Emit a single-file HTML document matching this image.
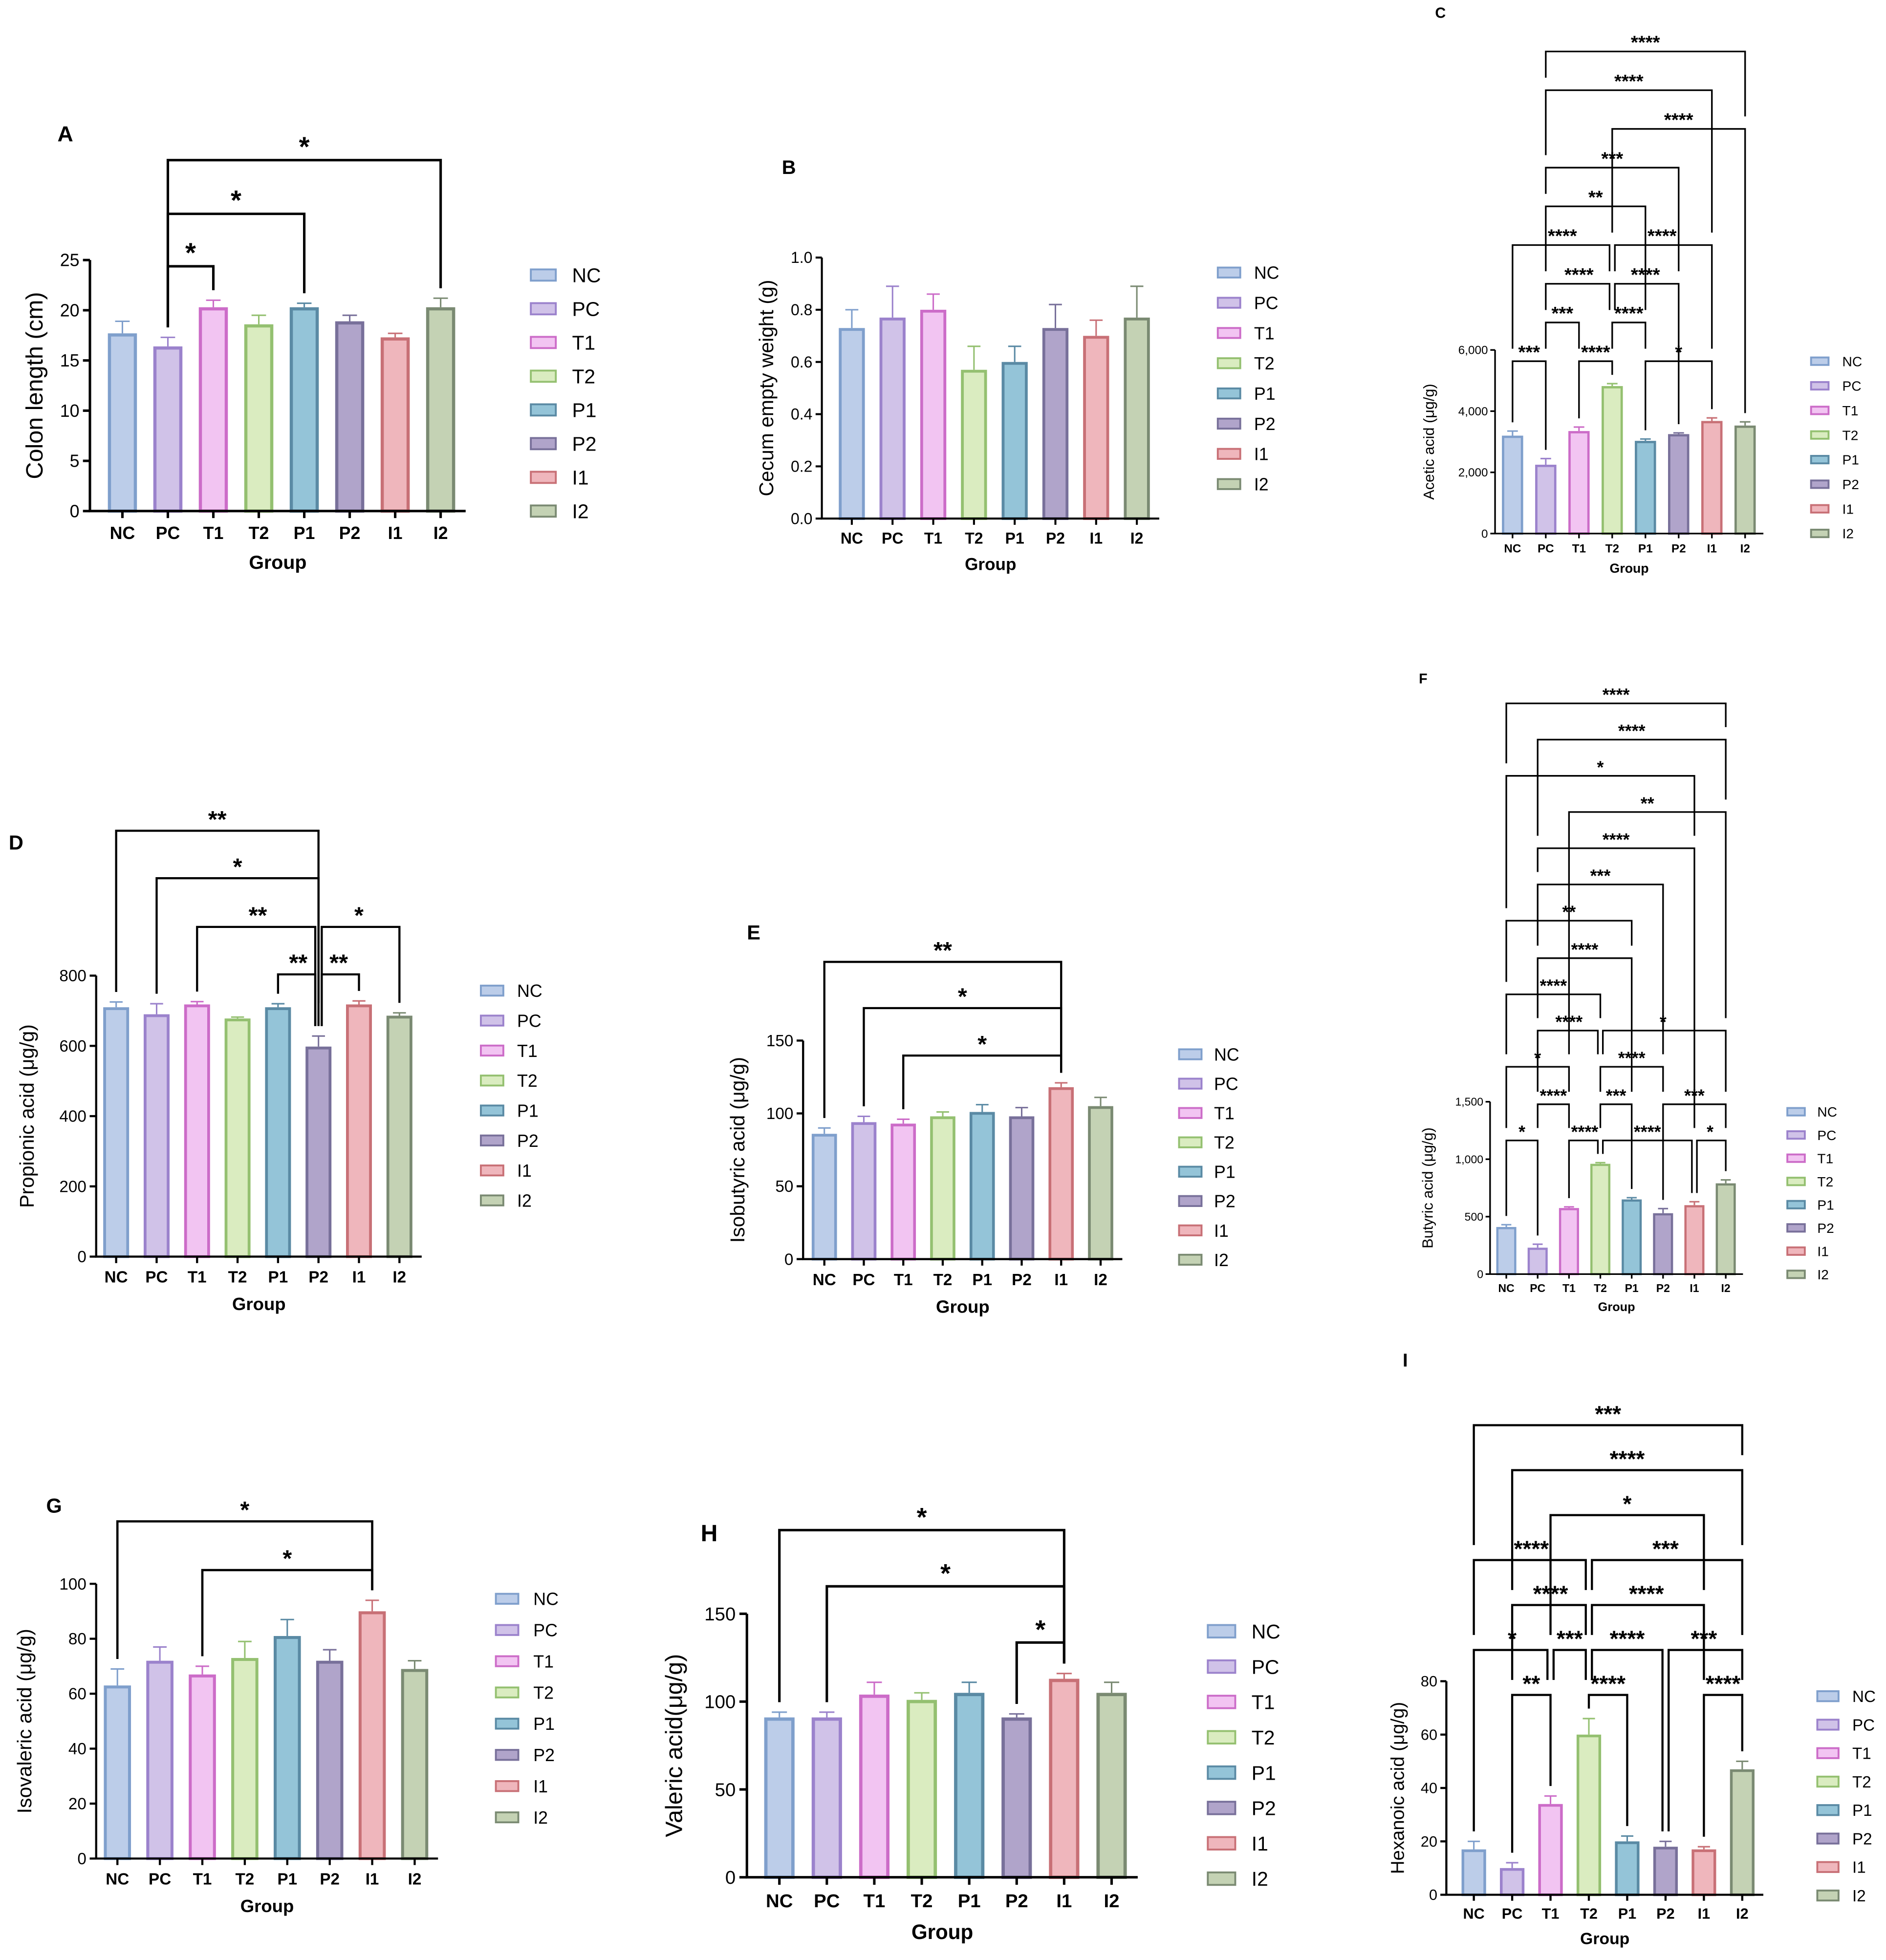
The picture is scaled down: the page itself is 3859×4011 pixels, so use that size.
<!DOCTYPE html>
<html><head><meta charset="utf-8">
<style>html,body{margin:0;padding:0;background:#fff}svg{display:block}text{font-family:"Liberation Sans",sans-serif}</style>
</head><body>
<svg id="fig" xmlns="http://www.w3.org/2000/svg" width="3859" height="4011" viewBox="0 0 1510 1569"></svg>
<script>
const groups=['NC','PC','T1','T2','P1','P2','I1','I2'];
const fills=['#bccde9','#d0c2e8','#f2c4f2','#daecc0','#94c4d8','#b0a4ca','#efb6bc','#c4d2b4'];
const strokes=['#7f9fcc','#9b82cc','#cc6cc8','#94c070','#5a8aa4','#78709a','#c87076','#7a8a72'];

const aValues=[17.7,16.4,20.3,18.6,20.3,18.9,17.3,20.3];
const aErrors=[1.2,0.9,0.7,0.9,0.4,0.6,0.4,0.9];
const aTicks=[0,5,10,15,20,25];
const aPairs=[[1,2,'*'],[1,4,'*'],[1,7,'*']];

const bValues=[0.73,0.77,0.80,0.57,0.60,0.73,0.70,0.77];
const bErrors=[0.07,0.12,0.06,0.09,0.06,0.09,0.06,0.12];
const bTicks=[0,0.2,0.4,0.6,0.8,1.0];
const bTickLabels=['0.0','0.2','0.4','0.6','0.8','1.0'];

const cValues=[3200,2250,3350,4820,3030,3250,3680,3530];
const cErrors=[150,200,130,80,60,40,100,120];
const cTicks=[0,2000,4000,6000];
const cTickLabels=['0','2,000','4,000','6,000'];
const cPairs=[[1,7,'****'],[1,6,'****'],[3,7,'****'],[1,5,'***'],[1,4,'**'],[0,3,'****'],[3,6,'****'],[1,3,'****'],[3,5,'****'],[1,2,'***'],[3,4,'****'],[0,1,'***'],[2,3,'****'],[4,6,'*']];

const dValues=[710,690,718,678,710,598,718,686];
const dErrors=[15,30,8,4,10,30,10,8];
const dTicks=[0,200,400,600,800];
const dPairs=[[0,5,'**'],[1,5,'*'],[2,5,'**'],[5,7,'*'],[4,5,'**'],[5,6,'**']];

const eValues=[86,94,93,98,101,98,118,105];
const eErrors=[4,4,3,3,5,6,3,6];
const eTicks=[0,50,100,150];
const ePairs=[[0,6,'**'],[1,6,'*'],[2,6,'*']];

const fValues=[410,230,575,960,650,530,600,790];
const fErrors=[20,30,10,10,15,40,30,30];
const fTicks=[0,500,1000,1500];
const fTickLabels=['0','500','1,000','1,500'];
const fPairs=[[0,7,'****'],[1,7,'****'],[0,6,'*'],[2,7,'**'],[1,6,'****'],[1,5,'***'],[0,4,'**'],[1,4,'****'],[0,3,'****'],[1,3,'****'],[3,7,'*'],[0,2,'*'],[3,5,'****'],[1,2,'****'],[3,4,'***'],[5,7,'***'],[0,1,'*'],[2,3,'****'],[3,6,'****'],[6,7,'*']];

const gValues=[63,72,67,73,81,72,90,69];
const gErrors=[6,5,3,6,6,4,4,3];
const gTicks=[0,20,40,60,80,100];
const gPairs=[[0,6,'*'],[2,6,'*']];

const hValues=[91,91,104,101,105,91,113,105];
const hErrors=[3,3,7,4,6,2,3,6];
const hTicks=[0,50,100,150];
const hPairs=[[0,6,'*'],[1,6,'*'],[5,6,'*']];

const iValues=[17,10,34,60,20,18,17,47];
const iErrors=[3,2,3,6,2,2,1,3];
const iTicks=[0,20,40,60,80];
const iPairs=[[0,7,'***'],[1,7,'****'],[2,6,'*'],[0,3,'****'],[3,7,'***'],[1,3,'****'],[3,6,'****'],[0,2,'*'],[2,3,'***'],[3,5,'****'],[5,7,'***'],[1,2,'**'],[3,4,'****'],[6,7,'****']];

const NS='http://www.w3.org/2000/svg';
const svg=document.getElementById('fig');
function mk(tag,attrs,parent,txt){const e=document.createElementNS(NS,tag);for(const k in attrs)e.setAttribute(k,attrs[k]);if(txt!==undefined)e.textContent=txt;(parent||svg).appendChild(e);return e;}

function panel(p){
  const g=mk('g',{});
  
  
  const ymax=p.ticks[p.ticks.length-1];
  const Y=v=>p.y0-(v/ymax)*(p.y0-p.yTop);
  const X=i=>p.c0+i*p.sp;
  const bw=p.sp*0.64, fs=p.fs;
  const L=mk('text',{x:p.lx,y:p.ly,'font-size':fs*1.25,'font-weight':'bold'},g,p.letter);
  
  
  p.values.forEach((v,i)=>{
    const sw=Math.max(1.5,p.sp*0.07);
    const top=Y(v), eTop=Y(v+p.errors[i]);
    const el=mk('line',{x1:X(i),x2:X(i),y1:top,y2:eTop,stroke:strokes[i],'stroke-width':1.2},g);
    
    
    const cap=mk('line',{x1:X(i)-bw*0.25,x2:X(i)+bw*0.25,y1:eTop,y2:eTop,stroke:strokes[i],'stroke-width':1.2},g);
    
    
    const r=mk('rect',{x:X(i)-bw/2+sw/2,y:top+sw/2,width:bw-sw,height:p.y0-top-sw/2,fill:fills[i],stroke:strokes[i],'stroke-width':sw},g);
    
    
  });
  const xEnd=X(7)+p.sp*0.55;
  const ya=mk('line',{x1:p.x0,x2:p.x0,y1:p.y0,y2:p.yTop,stroke:'#000','stroke-width':p.aw},g);
  
  
  const xa=mk('line',{x1:p.x0-p.aw/2,x2:xEnd,y1:p.y0,y2:p.y0,stroke:'#000','stroke-width':p.aw},g);
  
  
  p.ticks.forEach((t,k)=>{
    mk('line',{x1:p.x0-fs*0.4,x2:p.x0,y1:Y(t),y2:Y(t),stroke:'#000','stroke-width':p.aw},g);
    const tl=mk('text',{x:p.x0-fs*0.6,y:Y(t)+fs*0.35,'font-size':fs,'text-anchor':'end'},g,p.tickLabels?p.tickLabels[k]:String(t));
    
    
  });
  groups.forEach((n,i)=>{
    mk('line',{x1:X(i),x2:X(i),y1:p.y0,y2:p.y0+fs*0.4,stroke:'#000','stroke-width':p.aw},g);
    const xl=mk('text',{x:X(i),y:p.y0+fs*1.6,'font-size':fs,'font-weight':'bold','text-anchor':'middle'},g,n);
    
    
  });
  const xt=mk('text',{x:(p.x0+xEnd)/2,y:p.y0+fs*3.3,'font-size':fs*1.1,'font-weight':'bold','text-anchor':'middle'},g,'Group');
  
  
  const yt=mk('text',{x:p.ylx,y:(p.y0+p.yTop)/2,'font-size':p.yfs,'text-anchor':'middle',transform:`rotate(-90 ${p.ylx} ${(p.y0+p.yTop)/2})`},g,p.ylabel);
  
  
  const prs=p.pairs||[];
  function dropEnd(k,c){
    const by=p.levels[k];
    let end=Y(p.values[c]+p.errors[c])-p.gap;
    prs.forEach((q,j)=>{
      if(j===k)return;
      const ly=p.levels[j];
      if(ly>by+0.5&&(q[0]===c||q[1]===c))end=Math.min(end,ly-p.gap2);
    });
    return Math.max(end,by+4);
  }
  function xOff(k,c,side){
    const by=p.levels[k];
    let shared=false;
    prs.forEach((q,j)=>{if(j!==k&&Math.abs(p.levels[j]-by)<0.5&&(q[0]===c||q[1]===c))shared=true;});
    return X(c)+(shared?side*p.sp*0.08:0);
  }
  prs.forEach((pr,k)=>{
    const [a,b,s]=pr, by=p.levels[k];
    const xa2=xOff(k,a,1), xb2=xOff(k,b,-1);
    const pl=mk('polyline',{points:`${xa2},${dropEnd(k,a)} ${xa2},${by} ${xb2},${by} ${xb2},${dropEnd(k,b)}`,fill:'none',stroke:'#000','stroke-width':p.bw},g);
    
    
    const st=mk('text',{x:(X(a)+X(b))/2,y:by-p.sfs*0.15,'font-size':p.sfs,'font-weight':'bold','text-anchor':'middle'},g,s);
    
    
  });
  groups.forEach((n,i)=>{
    const ly=p.legY+i*p.legStep;
    const lg=mk('g',{},g);
    
    
    mk('rect',{x:p.legX,y:ly-p.legH/2,width:p.legW,height:p.legH,fill:fills[i],stroke:strokes[i],'stroke-width':1.5},lg);
    mk('text',{x:p.legTx,y:ly+p.legFs*0.36,'font-size':p.legFs},lg,n);
  });
}

panel({letter:'A',lx:46,ly:113,x0:72,y0:409,yTop:208,c0:98,sp:36.4,values:aValues,errors:aErrors,ticks:aTicks,fs:14,aw:2,ylabel:'Colon length (cm)',ylx:34,yfs:19,
  pairs:aPairs,levels:[213,171,128],gap:8,gap2:-100,bw:2,sfs:22,legX:425,legW:20,legH:9,legTx:458,legY:220,legStep:27,legFs:16});
panel({letter:'B',lx:626,ly:139,x0:658,y0:415,yTop:206,c0:682,sp:32.6,values:bValues,errors:bErrors,ticks:bTicks,tickLabels:bTickLabels,fs:12.5,aw:1.6,ylabel:'Cecum empty weight (g)',ylx:619,yfs:16,
  pairs:[],levels:[],gap:8,gap2:10,bw:1.5,sfs:16,legX:975,legW:18,legH:8,legTx:1004,legY:218,legStep:24.2,legFs:14});
panel({letter:'C',lx:1149,ly:14,x0:1197,y0:427,yTop:280,c0:1211,sp:26.6,values:cValues,errors:cErrors,ticks:cTicks,tickLabels:cTickLabels,fs:9.5,aw:1.3,ylabel:'Acetic acid (μg/g)',ylx:1148,yfs:12,
  pairs:cPairs,levels:[41,72,103,134,165,196,196,227,227,258,258,289,289,289],gap:7,gap2:10,bw:1.3,sfs:15,legX:1450,legW:14,legH:6,legTx:1475,legY:289,legStep:19.7,legFs:11});
panel({letter:'D',lx:7,ly:680,x0:77,y0:1006,yTop:781,c0:93,sp:32.4,values:dValues,errors:dErrors,ticks:dTicks,fs:13,aw:1.7,ylabel:'Propionic acid (μg/g)',ylx:27,yfs:16,
  pairs:dPairs,levels:[665,703,742,742,780,780],gap:8,gap2:-100,bw:1.7,sfs:19,legX:385,legW:18,legH:8,legTx:414,legY:793,legStep:24,legFs:14});
panel({letter:'E',lx:598,ly:752,x0:643,y0:1008,yTop:833,c0:660,sp:31.6,values:eValues,errors:eErrors,ticks:eTicks,fs:13,aw:1.7,ylabel:'Isobutyric acid (μg/g)',ylx:596,yfs:16,
  pairs:ePairs,levels:[770,807,845],gap:8,gap2:-100,bw:1.7,sfs:19,legX:944,legW:18,legH:8,legTx:972,legY:844,legStep:23.5,legFs:14});
panel({letter:'F',lx:1136,ly:547,x0:1193,y0:1020,yTop:882,c0:1206,sp:25.1,values:fValues,errors:fErrors,ticks:fTicks,tickLabels:fTickLabels,fs:9,aw:1.3,ylabel:'Butyric acid (μg/g)',ylx:1147,yfs:12,
  pairs:fPairs,levels:[563,592,621,650,679,708,737,767,796,825,825,854,854,884,884,884,913,913,913,913],gap:7,gap2:10,bw:1.3,sfs:14,legX:1431,legW:14,legH:6,legTx:1455,legY:890,legStep:18.6,legFs:11});
panel({letter:'G',lx:37,ly:1211,x0:77,y0:1488,yTop:1268,c0:94,sp:34,values:gValues,errors:gErrors,ticks:gTicks,fs:13,aw:1.7,ylabel:'Isovaleric acid (μg/g)',ylx:25,yfs:16,
  pairs:gPairs,levels:[1218,1257],gap:8,gap2:-100,bw:1.8,sfs:19,legX:397,legW:18,legH:8,legTx:427,legY:1280,legStep:25,legFs:14});
panel({letter:'H',lx:561,ly:1234,x0:598,y0:1503,yTop:1292,c0:624,sp:38,values:hValues,errors:hErrors,ticks:hTicks,fs:15,aw:2,ylabel:'Valeric acid(μg/g)',ylx:546,yfs:19,
  pairs:hPairs,levels:[1225,1270,1315],gap:8,gap2:-100,bw:2,sfs:21,legX:967,legW:22,legH:10,legTx:1002,legY:1306,legStep:28.3,legFs:16});
panel({letter:'I',lx:1123,ly:1094,x0:1158,y0:1517,yTop:1346,c0:1180,sp:30.7,values:iValues,errors:iErrors,ticks:iTicks,fs:12,aw:1.7,ylabel:'Hexanoic acid (μg/g)',ylx:1124,yfs:15,
  pairs:iPairs,levels:[1141,1177,1213,1249,1249,1285,1285,1321,1321,1321,1321,1357,1357,1357],gap:8,gap2:12,bw:1.7,sfs:18,legX:1455,legW:17,legH:8,legTx:1483,legY:1358,legStep:22.8,legFs:13});
</script>
</body></html>
